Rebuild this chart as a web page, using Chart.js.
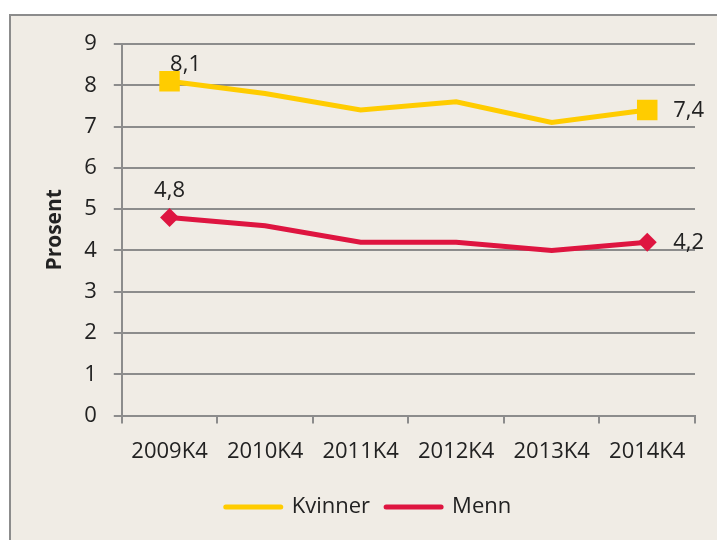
<!DOCTYPE html>
<html>
<head>
<meta charset="utf-8">
<script src="https://cdn.jsdelivr.net/npm/chart.js@4/dist/chart.umd.min.js"></script>
<style>
  html, body { margin: 0; padding: 0; background: #ffffff; }
  body { width: 717px; height: 540px; position: relative; overflow: hidden; }
  #frame {
    position: absolute; left: 9px; top: 14px; width: 720px; height: 540px;
    background: #f0ece5; border: 2px solid #8c8c8c;
  }
  #chart { position: absolute; left: 0; top: 0; }
</style>
</head>
<body>
<div id="frame"></div>
<canvas id="chart" width="717" height="540"></canvas>
<script>
// chart data
const categories = ['2009K4', '2010K4', '2011K4', '2012K4', '2013K4', '2014K4'];
const kvinner = [8.1, 7.8, 7.4, 7.6, 7.1, 7.4];
const menn = [4.8, 4.6, 4.2, 4.2, 4.0, 4.2];
const seriesNames = ['Kvinner', 'Menn'];

const textColor = '#222222';
const gridColor = '#8c8c8c';
const fontFamily = '"Open Sans", "Noto Sans", sans-serif';

// only first and last point get a marker
function endPointRadius(r) {
	return (c) => (c.dataIndex === 0 || c.dataIndex === categories.length - 1) ? r : 0;
}

// draws value labels on the first and last point, with a decimal comma
const endLabels = {
	id: 'endLabels',
	afterDatasetsDraw(chart) {
		const ctx = chart.ctx;
		ctx.save();
		ctx.font = '22px ' + fontFamily;
		ctx.fillStyle = textColor;
		ctx.textBaseline = 'middle';
		chart.data.datasets.forEach((ds, di) => {
			const meta = chart.getDatasetMeta(di);
			const offs = ds.labelOffsets;
			[0, ds.data.length - 1].forEach((i, k) => {
				const pt = meta.data[i];
				const o = offs[k];
				ctx.textAlign = o.align;
				ctx.fillText(String(ds.data[i]).replace('.', ','), pt.x + o.dx, pt.y + o.dy);
			});
		});
		ctx.restore();
	}
};

// legend shows plain line segments (the point markers would hide them)
function lineLegendLabels(chart) {
	return chart.data.datasets.map((ds, i) => ({
		text: ds.label,
		datasetIndex: i,
		fillStyle: ds.borderColor,
		strokeStyle: ds.borderColor,
		fontColor: textColor,
		lineWidth: 5,
		lineCap: 'round',
		pointStyle: 'line',
		hidden: false
	}));
}

let ctx = document.getElementById('chart').getContext('2d');

let config = {
	type: 'line',
	data: {
		labels: categories,
		datasets: [{
			label: seriesNames[0],
			data: kvinner,
			borderColor: '#ffcc00',
			backgroundColor: '#ffcc00',
			borderWidth: 5,
			tension: 0,
			pointStyle: 'rect',
			pointRadius: endPointRadius(14.5),
			pointBorderWidth: 0,
			labelOffsets: [{dx: 16, dy: -16, align: 'center'}, {dx: 26, dy: 1, align: 'left'}]
		}, {
			label: seriesNames[1],
			data: menn,
			borderColor: '#de1540',
			backgroundColor: '#de1540',
			borderWidth: 5,
			tension: 0,
			pointStyle: 'rectRot',
			pointRadius: endPointRadius(9.5),
			pointBorderWidth: 0,
			labelOffsets: [{dx: 0, dy: -27, align: 'center'}, {dx: 26, dy: 1, align: 'left'}]
		}]
	},
	options: {
		responsive: false,
		animation: false,
		layout: {
			padding: {left: 42, right: 22, top: 44, bottom: 12}
		},
		plugins: {
			legend: {
				position: 'bottom',
				labels: {
					usePointStyle: true,
					pointStyleWidth: 55,
					padding: 16,
					color: textColor,
					font: {family: fontFamily, size: 22},
					generateLabels: lineLegendLabels
				}
			},
			tooltip: {enabled: false}
		},
		scales: {
			x: {
				offset: true,
				grid: {
					offset: true,
					drawOnChartArea: false,
					color: gridColor,
					lineWidth: 2,
					tickLength: 8
				},
				border: {color: gridColor, width: 2},
				ticks: {
					color: textColor,
					padding: 15,
					maxRotation: 0,
					font: {family: fontFamily, size: 22}
				}
			},
			y: {
				min: 0,
				max: 9,
				grid: {
					color: gridColor,
					lineWidth: 2,
					tickLength: 8
				},
				border: {color: gridColor, width: 2},
				ticks: {
					stepSize: 1,
					color: textColor,
					padding: 17,
					font: {family: fontFamily, size: 22}
				},
				title: {
					display: true,
					text: 'Prosent',
					color: textColor,
					padding: {top: 0, bottom: 0},
					font: {family: fontFamily, size: 21, weight: 'bold'}
				}
			}
		}
	},
	plugins: [endLabels]
};

let chart = new Chart(ctx, config);
</script>
</body>
</html>
